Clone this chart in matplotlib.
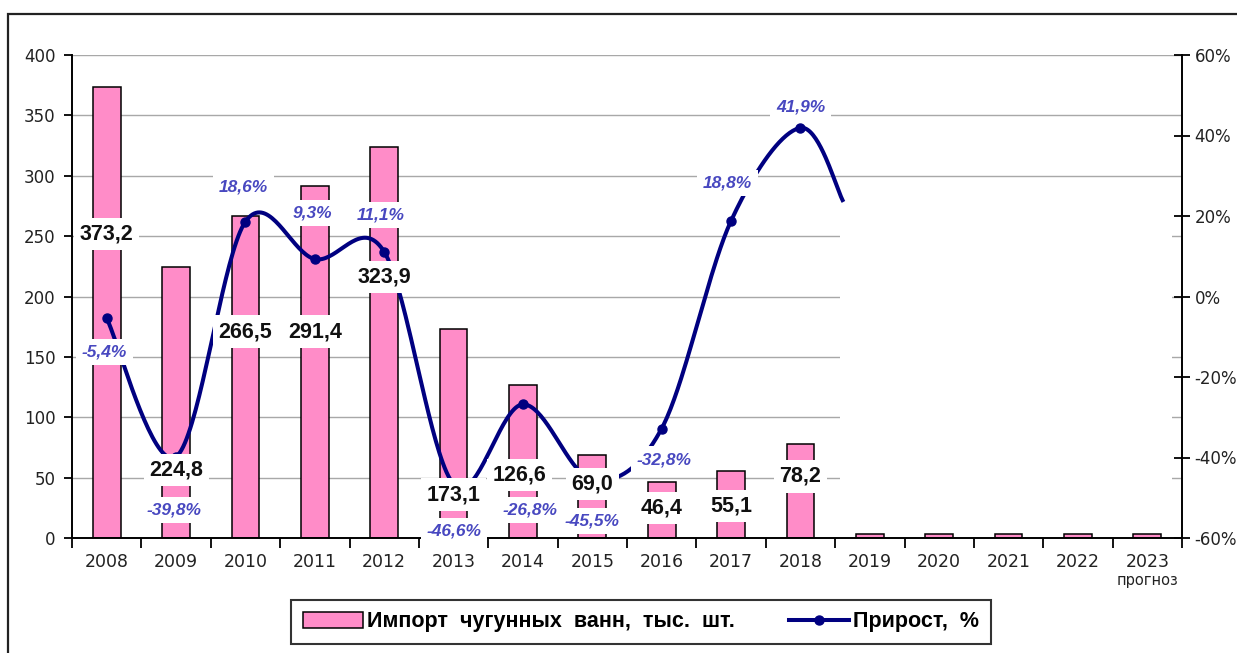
import numpy as np
import matplotlib.pyplot as plt
from matplotlib.patches import Rectangle, Patch
from matplotlib.lines import Line2D
import matplotlib.transforms as mtransforms

years = ['2008', '2009', '2010', '2011', '2012', '2013', '2014', '2015',
         '2016', '2017', '2018', '2019', '2020', '2021', '2022', '2023']
imports = [373.2, 224.8, 266.5, 291.4, 323.9, 173.1, 126.6, 69.0,
           46.4, 55.1, 78.2, 3, 3, 3, 3, 3]
import_labels = ['373,2', '224,8', '266,5', '291,4', '323,9', '173,1', '126,6',
                 '69,0', '46,4', '55,1', '78,2']
growth = [-5.4, -39.8, 18.6, 9.3, 11.1, -46.6, -26.8, -45.5, -32.8, 18.8, 41.9]
growth_labels = ['-5,4%', '-39,8%', '18,6%', '9,3%', '11,1%', '-46,6%',
                 '-26,8%', '-45,5%', '-32,8%', '18,8%', '41,9%']
# where the visible line stops after 2018
tail_x, tail_y = 10.62, 23.5

# label placement (left axis units), as moved by hand in the original
bar_lab_y = [252, 56, 171, 171, 216, 36, 52, 45, 25, 26.5, 51]
bar_lab_dx = [0, 0, 0, 0, 0, 0, -0.05, 0, 0, 0, 0]
pct_lab_y = [154, 23, 291, 269, 267.5, 6, 23, 14, 65, 294, 357]
pct_lab_dx = [-0.03, -0.03, -0.03, -0.03, -0.05, 0, 0.1, 0, 0.03, -0.05, 0]

PINK = '#ff8cc8'
NAVY = '#000080'
PCT = '#4848c0'

plt.rcParams['font.family'] = ['DejaVu Sans']

fig = plt.figure(figsize=(12.37, 6.53), dpi=100)
ax = fig.add_axes([72/1237, 1-538/653, (1182-72)/1237, (538-55)/653])
ax2 = ax.twinx()

x = np.arange(len(years))
ax.bar(x, imports, width=0.4, color=PINK, edgecolor='black', linewidth=1.1, zorder=2)

ax.set_xlim(-0.5, len(years) - 0.5)
ax.set_ylim(0, 400)
ax.set_yticks(np.arange(0, 401, 50))
ax.set_axisbelow(True)
ax.yaxis.grid(True, color='#a8a8a8', linewidth=1)
ax.set_xticks(x)
ax.set_xticklabels(years)
ax.set_xticks(np.arange(-0.5, len(years)), minor=True)
ax.tick_params(axis='x', which='major', length=0, pad=11, labelsize=12.5)
ax.tick_params(axis='x', which='minor', length=7, width=1.3, direction='out')
ax.tick_params(axis='y', length=6, width=1.3, pad=6, labelsize=12)
ax.tick_params(axis='both', labelcolor='#222222', color='black')
for s in ['top', 'right']:
    ax.spines[s].set_visible(False)
for s in ['left', 'bottom']:
    ax.spines[s].set_linewidth(1.4)

# region of the original that was wiped white
ax.add_patch(Rectangle((10.57, 4.5), 15.35 - 10.57, 277 - 4.5, facecolor='white',
                       edgecolor='none', zorder=1.5))

# smoothed line (Excel-style bezier)
px = list(x[:len(growth)].astype(float)) + [tail_x]
py = list(growth) + [tail_y]
pts = np.column_stack([px, py])
n = len(pts)
curve = []
tt = np.linspace(0, 1, 40)
for i in range(n - 1):
    p0, p3 = pts[i], pts[i + 1]
    pm = pts[max(i - 1, 0)]
    pn = pts[min(i + 2, n - 1)]
    c1 = p0 + (p3 - pm) / 6
    c2 = p3 - (pn - p0) / 6
    seg = ((1 - tt)[:, None] ** 3 * p0 + 3 * ((1 - tt) ** 2 * tt)[:, None] * c1
           + 3 * ((1 - tt) * tt ** 2)[:, None] * c2 + (tt ** 3)[:, None] * p3)
    curve.append(seg)
curve = np.vstack(curve)
ax2.plot(curve[:, 0], curve[:, 1], color=NAVY, linewidth=2.9, zorder=3,
         solid_capstyle='butt')
ax2.plot(x[:len(growth)], growth, 'o', color=NAVY, markersize=6.5, zorder=3)

ax2.set_ylim(-60, 60)
ax2.set_yticks(np.arange(-60, 61, 20))
ax2.set_yticklabels([f'{v}%' for v in range(-60, 61, 20)])
ax2.tick_params(axis='y', direction='inout', length=12, width=1.3, pad=3,
                labelsize=12, labelcolor='#222222')
for s in ['top', 'left', 'bottom']:
    ax2.spines[s].set_visible(False)
ax2.spines['right'].set_linewidth(1.4)

box = dict(facecolor='white', edgecolor='none', pad=4)
for i, lab in enumerate(import_labels):
    ax2.text(i + bar_lab_dx[i], bar_lab_y[i], lab, transform=ax.transData,
             ha='center', va='center', fontsize=15.5, fontweight='bold',
             family='Liberation Sans', color='#111111', bbox=box, zorder=5)
for i, lab in enumerate(growth_labels):
    ax2.text(i + pct_lab_dx[i], pct_lab_y[i], lab, transform=ax.transData,
             ha='center', va='center', fontsize=12.5, fontweight='bold', style='italic',
             family='Liberation Sans', color=PCT, bbox=box, zorder=5)

trans = mtransforms.blended_transform_factory(ax.transData, ax.transAxes)
ax.text(15, -0.088, 'прогноз', transform=trans, ha='center', va='center',
        fontsize=10.5, color='#222222')

handles = [Patch(facecolor=PINK, edgecolor='black', linewidth=1.1),
           Line2D([], [], color=NAVY, linewidth=2.9, marker='o', markersize=6.5)]
leg = fig.legend(handles, ['Импорт  чугунных  ванн,  тыс.  шт.', 'Прирост,  %'],
                 loc='center', bbox_to_anchor=(641/1237, 1-622/653), ncol=2,
                 prop={'family': 'Liberation Sans', 'weight': 'bold', 'size': 15.5},
                 frameon=True, fancybox=False, edgecolor='black', handlelength=2.8,
                 handleheight=0.8, handletextpad=0.2, columnspacing=2.5,
                 borderpad=0.55, borderaxespad=0)
leg.get_frame().set_linewidth(1.5)

fig.patches.append(Rectangle((8/1237, -0.1), 1.2, 1.1 - 14/653, transform=fig.transFigure,
                             fill=False, edgecolor='#222222', linewidth=1.6))

fig.savefig('out.png', dpi=100)
